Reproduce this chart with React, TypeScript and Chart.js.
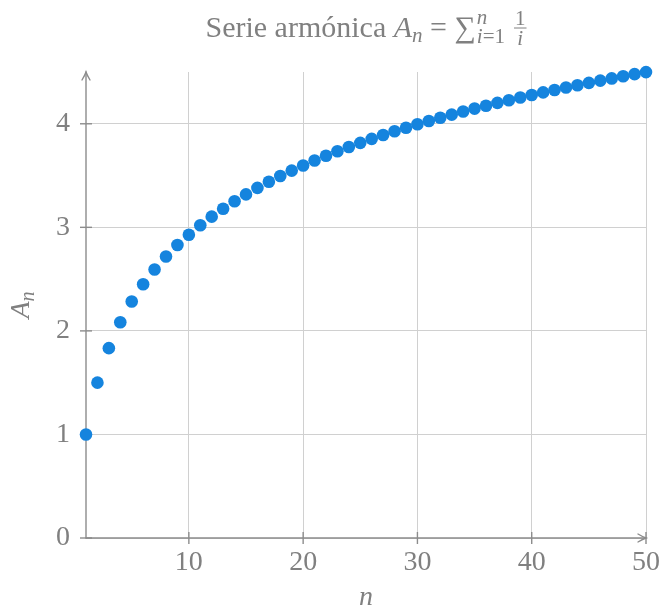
import React, { useEffect, useRef } from 'react';
import { Chart, registerables } from 'chart.js';
Chart.register(...registerables);

const nValues = [
  1, 2, 3, 4, 5, 6, 7, 8, 9, 10, 11, 12, 13, 14, 15, 16, 17, 18, 19, 20, 21, 22, 23, 24, 25,
  26, 27, 28, 29, 30, 31, 32, 33, 34, 35, 36, 37, 38, 39, 40, 41, 42, 43, 44, 45, 46, 47, 48, 49, 50,
];
const harmonicValues = [
  1.0, 1.5, 1.8333, 2.0833, 2.2833, 2.45, 2.5929, 2.7179, 2.829, 2.929,
  3.0199, 3.1032, 3.1801, 3.2516, 3.3182, 3.3807, 3.4396, 3.4951, 3.5477, 3.5977,
  3.6454, 3.6908, 3.7343, 3.776, 3.816, 3.8544, 3.8915, 3.9272, 3.9617, 3.995,
  4.0272, 4.0585, 4.0888, 4.1182, 4.1468, 4.1746, 4.2016, 4.2279, 4.2535, 4.2785,
  4.3029, 4.3267, 4.35, 4.3727, 4.3949, 4.4167, 4.438, 4.4588, 4.4792, 4.4992,
];
const xTickValues = [10, 20, 30, 40, 50];
const yTickValues = [0, 1, 2, 3, 4];

const W = 662;
const H = 607;
const AXIS_COLOR = '#8c8c8c';
const TEXT_COLOR = '#808080';
const GRID_COLOR = '#d0d0d0';
const POINT_COLOR = '#1584de';
const FAMILY = "'Liberation Serif', 'DejaVu Serif', serif";
const S = 28;
const TS = 30;

function font(size: number, italic = false) {
  return `${italic ? 'italic ' : ''}${size}px ${FAMILY}`;
}

const decorPlugin = {
  id: 'decor',
  beforeDatasetsDraw(chart: any) {
    const { ctx, chartArea: a, scales } = chart;
    ctx.save();
    ctx.strokeStyle = AXIS_COLOR;
    ctx.lineWidth = 1.4;
    ctx.lineCap = 'round';
    // x axis
    ctx.beginPath();
    ctx.moveTo(a.left, a.bottom);
    ctx.lineTo(a.right, a.bottom);
    ctx.stroke();
    ctx.beginPath();
    ctx.moveTo(a.right - 8, a.bottom - 4);
    ctx.quadraticCurveTo(a.right - 3, a.bottom - 1, a.right, a.bottom);
    ctx.quadraticCurveTo(a.right - 3, a.bottom + 1, a.right - 8, a.bottom + 4);
    ctx.stroke();
    // y axis
    ctx.beginPath();
    ctx.moveTo(a.left, a.bottom);
    ctx.lineTo(a.left, a.top);
    ctx.stroke();
    ctx.beginPath();
    ctx.moveTo(a.left - 4, a.top + 8);
    ctx.quadraticCurveTo(a.left - 1, a.top + 3, a.left, a.top);
    ctx.quadraticCurveTo(a.left + 1, a.top + 3, a.left + 4, a.top + 8);
    ctx.stroke();
    // tick marks
    ctx.lineCap = 'butt';
    for (const v of xTickValues) {
      const x = scales.x.getPixelForValue(v);
      ctx.beginPath();
      ctx.moveTo(x, a.bottom - 6);
      ctx.lineTo(x, a.bottom + 6);
      ctx.stroke();
    }
    for (const v of yTickValues) {
      const y = scales.y.getPixelForValue(v);
      ctx.beginPath();
      ctx.moveTo(a.left - 6, y);
      ctx.lineTo(a.left + 6, y);
      ctx.stroke();
    }
    ctx.restore();
  },
  afterDraw(chart: any) {
    const { ctx, chartArea: a } = chart;
    ctx.save();
    ctx.fillStyle = TEXT_COLOR;
    ctx.strokeStyle = TEXT_COLOR;
    ctx.textBaseline = 'alphabetic';
    ctx.textAlign = 'left';

    // Title
    const sub = Math.round(TS * 0.7);
    const base = 37;
    type Seg = { t: string; f: string; dy: number };
    const parts: Seg[] = [
      { t: 'Serie armónica ', f: font(TS), dy: 0 },
      { t: 'A', f: font(TS, true), dy: 0 },
      { t: 'n', f: font(sub, true), dy: 5 },
      { t: ' = ', f: font(TS), dy: 0 },
      { t: '∑', f: font(TS), dy: 0 },
    ];
    const widthOf = (s: Seg) => {
      ctx.font = s.f;
      return ctx.measureText(s.t).width;
    };
    ctx.font = font(sub, true);
    const wi = ctx.measureText('i').width;
    ctx.font = font(sub);
    const wEq1 = ctx.measureText('=1').width;
    ctx.font = font(sub, true);
    const wN = ctx.measureText('n').width;
    const limW = Math.max(wi + wEq1, wN);
    ctx.font = font(sub);
    const wOne = ctx.measureText('1').width;
    const fracW = wOne + 2;
    const gap = 9;
    let total = 0;
    for (const p of parts) total += widthOf(p);
    total += 1 + limW + gap + fracW;
    let x = (a.left + a.right) / 2 - total / 2;
    for (const p of parts) {
      ctx.font = p.f;
      ctx.fillText(p.t, x, base + p.dy);
      x += widthOf(p);
    }
    x += 1;
    ctx.font = font(sub, true);
    ctx.fillText('n', x, base - 13);
    ctx.fillText('i', x, base + 6);
    ctx.font = font(sub);
    ctx.fillText('=1', x + wi, base + 6);
    x += limW + gap;
    ctx.textAlign = 'center';
    const fc = x + fracW / 2;
    ctx.font = font(sub);
    ctx.fillText('1', fc, base - 12);
    ctx.lineWidth = 1;
    ctx.beginPath();
    ctx.moveTo(x, base - 9);
    ctx.lineTo(x + fracW, base - 9);
    ctx.stroke();
    ctx.font = font(sub, true);
    ctx.fillText('i', fc, base + 8);

    // x axis title
    ctx.textAlign = 'center';
    ctx.font = font(S, true);
    ctx.fillText('n', (a.left + a.right) / 2, 605);

    // y axis title
    ctx.save();
    ctx.translate(29, (a.top + a.bottom) / 2);
    ctx.rotate(-Math.PI / 2);
    ctx.font = font(S, true);
    const wA = ctx.measureText('A').width;
    ctx.font = font(Math.round(S * 0.7), true);
    const wn = ctx.measureText('n').width;
    const start = -(wA + wn) / 2;
    ctx.textAlign = 'left';
    ctx.font = font(S, true);
    ctx.fillText('A', start, 0);
    ctx.font = font(Math.round(S * 0.7), true);
    ctx.fillText('n', start + wA, 5);
    ctx.restore();

    ctx.restore();
  },
};

export default function App() {
  const ref = useRef<HTMLCanvasElement | null>(null);
  useEffect(() => {
    if (!ref.current) return;
    const chart = new Chart(ref.current, {
      type: 'scatter',
      data: {
        datasets: [
          {
            data: nValues.map((n, i) => ({ x: n, y: harmonicValues[i] })),
            backgroundColor: POINT_COLOR,
            borderWidth: 0,
            pointRadius: 6.3,
            pointHoverRadius: 6.3,
            clip: false,
          } as any,
        ],
      },
      options: {
        animation: false,
        responsive: false,
        events: [],
        layout: { padding: { left: 0, top: 72, right: 16, bottom: 0 } },
        plugins: { legend: { display: false }, tooltip: { enabled: false }, title: { display: false } },
        scales: {
          x: {
            type: 'linear',
            min: 1,
            max: 50,
            afterBuildTicks: (s: any) => {
              s.ticks = xTickValues.map((v) => ({ value: v }));
            },
            afterFit: (s: any) => {
              s.height = 69;
              s.paddingLeft = 0;
              s.paddingRight = 0;
            },
            grid: { color: GRID_COLOR, lineWidth: 1, drawTicks: false },
            border: { display: false },
            ticks: {
              color: TEXT_COLOR,
              font: { family: FAMILY, size: S },
              padding: 8,
              maxRotation: 0,
              autoSkip: false,
            },
          },
          y: {
            type: 'linear',
            min: 0,
            max: 4.5,
            afterBuildTicks: (s: any) => {
              s.ticks = yTickValues.map((v) => ({ value: v }));
            },
            afterFit: (s: any) => {
              s.width = 86;
              s.paddingTop = 0;
              s.paddingBottom = 0;
            },
            grid: { color: GRID_COLOR, lineWidth: 1, drawTicks: false },
            border: { display: false },
            ticks: {
              color: TEXT_COLOR,
              font: { family: FAMILY, size: S },
              padding: 16,
            },
          },
        },
      },
      plugins: [decorPlugin],
    });
    return () => chart.destroy();
  }, []);
  return (
    <div style={{ position: 'fixed', left: 0, top: 0, width: W, height: H, background: '#fff' }}>
      <canvas ref={ref} width={W} height={H} style={{ display: 'block' }} />
    </div>
  );
}
